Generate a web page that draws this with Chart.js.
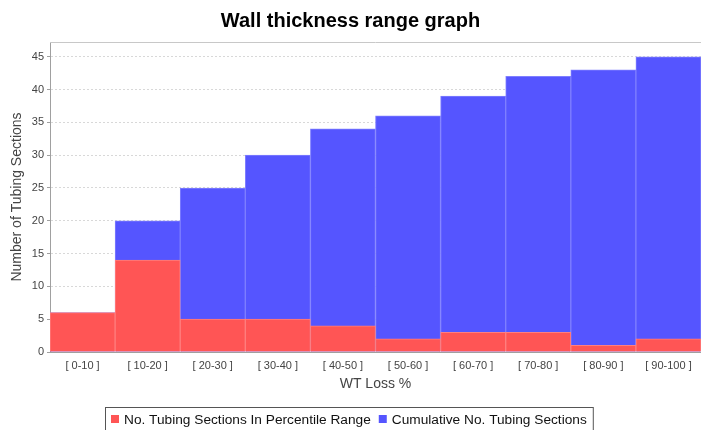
<!DOCTYPE html>
<html>
<head>
<meta charset="utf-8">
<script src="https://cdn.jsdelivr.net/npm/chart.js@4/dist/chart.umd.min.js"></script>
<style>
  html, body { margin: 0; padding: 0; background: #fff; }
  #wrap { width: 701px; height: 430px; }
</style>
</head>
<body>
<div id="wrap"><canvas id="wallChart"></canvas></div>
<script>
// data
var ranges = ['[ 0-10 ]', '[ 10-20 ]', '[ 20-30 ]', '[ 30-40 ]', '[ 40-50 ]',
              '[ 50-60 ]', '[ 60-70 ]', '[ 70-80 ]', '[ 80-90 ]', '[ 90-100 ]'];
var inRange = [6, 14, 5, 5, 4, 2, 3, 3, 1, 2];
var cumulative = [6, 20, 25, 30, 34, 36, 39, 42, 43, 45];
var yTicks = [0, 5, 10, 15, 20, 25, 30, 35, 40, 45];

var FONT = 'Arial, "Liberation Sans", sans-serif';

// top outline of the plot + boxed legend like the original
var plotFrame = {
    id: 'plotFrame',
    afterDraw(chart) {
        const { ctx, chartArea: { top, left, right } } = chart;
        ctx.save();
        ctx.strokeStyle = '#c8c8c8';
        ctx.lineWidth = 1;
        ctx.beginPath();
        ctx.moveTo(left, top + 0.5);
        ctx.lineTo(right, top + 0.5);
        ctx.stroke();

        // legend
        ctx.font = '13.7px ' + FONT;
        ctx.textBaseline = 'middle';
        const box = 8, gap = 5, itemGap = 8, pad = 6;
        const items = chart.data.datasets.map(d => ({
            text: d.label, color: d.backgroundColor,
            w: box + gap + ctx.measureText(d.label).width
        }));
        const total = items.reduce((s, it) => s + it.w, 0) + itemGap * (items.length - 1) + pad * 2;
        let x = Math.round(chart.width / 2 - total / 2 - 2);
        const y = 420;
        ctx.strokeStyle = '#555';
        ctx.strokeRect(x + 0.5, 407.5, total, 24);
        x += pad;
        items.forEach(it => {
            ctx.fillStyle = it.color;
            ctx.fillRect(x, y - 5, box, box);
            ctx.fillStyle = '#111';
            ctx.fillText(it.text, x + box + gap, y);
            x += it.w + itemGap;
        });
        ctx.restore();
    }
};

var config = {
    type: 'bar',
    data: {
        labels: ranges,
        datasets: [{
            label: 'No. Tubing Sections In Percentile Range',
            data: inRange,
            backgroundColor: '#ff5555',
            borderColor: '#ff7f7f',
            borderWidth: 1,
            barPercentage: 1,
            categoryPercentage: 1,
            grouped: false
        }, {
            label: 'Cumulative No. Tubing Sections',
            data: cumulative,
            backgroundColor: '#5555ff',
            borderColor: '#7f7fff',
            borderWidth: 1,
            barPercentage: 1,
            categoryPercentage: 1,
            grouped: false
        }]
    },
    options: {
        responsive: true,
        maintainAspectRatio: false,
        animation: false,
        layout: { padding: { left: 0, right: 0, top: 0, bottom: 25 } },
        plugins: {
            legend: { display: false },
            tooltip: { enabled: false },
            title: {
                display: true,
                text: 'Wall thickness range graph',
                color: '#000',
                font: { family: FONT, size: 20, weight: 'bold' },
                padding: { top: 9, bottom: 9 }
            }
        },
        scales: {
            x: {
                grid: { display: false, drawTicks: false },
                border: { display: true, color: '#a0a0a0' },
                ticks: { color: '#444', font: { family: FONT, size: 11 }, padding: 7, maxRotation: 0, autoSkip: false },
                title: {
                    display: true, text: 'WT Loss %', color: '#444',
                    font: { family: FONT, size: 14 }, padding: { top: 0, bottom: 12 }
                },
                afterFit(scale) { scale.height = 53; }
            },
            y: {
                min: 0,
                max: 47.25,
                afterBuildTicks(scale) {
                    scale.ticks = yTicks.map(v => ({ value: v }));
                },
                grid: {
                    color: '#d8d8d8',
                    tickLength: 3,
                    tickColor: '#a0a0a0'
                },
                border: { display: true, color: '#a0a0a0', dash: [2, 2] },
                ticks: { color: '#444', font: { family: FONT, size: 11 }, padding: 3 },
                title: {
                    display: true, text: 'Number of Tubing Sections', color: '#444',
                    font: { family: FONT, size: 14 }, padding: { top: 9, bottom: 0 }
                },
                afterFit(scale) { scale.width = 50; }
            }
        }
    },
    plugins: [plotFrame]
};

const wallChart = new Chart(document.getElementById('wallChart'), config);
</script>
</body>
</html>
